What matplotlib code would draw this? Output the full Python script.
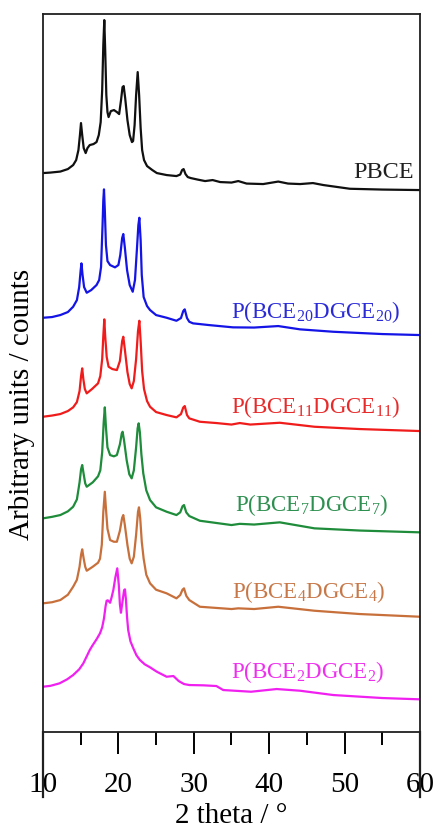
import matplotlib
matplotlib.use("Agg")
import matplotlib.pyplot as plt
import numpy as np

plt.rcParams['font.family'] = ['Liberation Serif', 'DejaVu Serif']
plt.rcParams['mathtext.fontset'] = 'custom'
plt.rcParams['mathtext.rm'] = 'Liberation Serif'
plt.rcParams['mathtext.it'] = 'Liberation Serif'
plt.rcParams['mathtext.bf'] = 'Liberation Serif'

# ---- XRD patterns: 2-theta (deg) and intensity above each trace's baseline ----
pbce_2t = [10.0, 11.0, 12.3, 13.3, 14.0, 14.4, 14.7, 14.9, 15.04, 15.2, 15.4, 15.66,
           15.9, 16.2, 16.7, 17.1, 17.4, 17.65, 17.85, 18.0, 18.13, 18.25, 18.4, 18.55,
           18.7, 19.0, 19.42, 19.8, 20.1, 20.35, 20.55, 20.7, 20.9, 21.2, 21.5, 21.8,
           21.95, 22.15, 22.35, 22.56, 22.75, 22.95, 23.15, 23.4, 23.8, 24.5, 25.1,
           26.4, 27.7, 28.2, 28.45, 28.65, 28.9, 29.2, 29.6, 30.5, 31.5, 32.5, 33.5,
           35.0, 35.9, 37.0, 39.2, 41.2, 42.5, 44.1, 45.8, 47.2, 50.7, 55.0, 60.0]
pbce_int = [17, 17.5, 18.5, 21, 25, 30, 40, 55, 67, 55, 42, 37,
            42, 45, 46, 48, 55, 68, 100, 145, 170, 140, 95, 78,
            73, 79, 80, 78, 76, 90, 103, 104, 92, 70, 55, 48,
            49, 65, 95, 118, 95, 62, 40, 30, 24, 20, 17,
            15, 14, 15.5, 20, 21, 16, 13, 12, 10.5, 9, 10, 8,
            7.5, 9, 6.5, 6, 8.5, 6.5, 6, 7, 5, 1.3, 0.5, 0]

bce20_2t = [10.0, 11.2, 12.3, 13.3, 14.0, 14.5, 14.8, 15.0, 15.1, 15.25, 15.45, 15.8,
            16.4, 17.1, 17.45, 17.7, 17.9, 18.0, 18.09, 18.2, 18.35, 18.55, 18.9,
            19.55, 20.0, 20.25, 20.5, 20.65, 20.85, 21.15, 21.5, 21.9, 22.2, 22.45,
            22.65, 22.78, 22.95, 23.1, 23.35, 23.8, 24.2, 25.0, 26.4, 27.7, 28.3,
            28.6, 28.8, 29.1, 29.4, 29.9, 32.0, 35.2, 38.0, 41.2, 44.1, 48.5, 55.0, 60.0]
bce20_int = [17.3, 18, 20, 23, 28.3, 35, 48, 65, 71.7, 60, 48, 42.3,
             45, 50, 55, 68, 110, 135, 145.7, 125, 90, 74, 70,
             67.7, 70, 80, 97, 101, 88, 65, 50, 43.3, 55, 85,
             110, 117.3, 95, 60, 38, 29, 25, 20, 17.3, 14.3, 17,
             24, 25.7, 17, 13.3, 11.7, 10, 7.7, 7.5, 9, 5.7, 3.3, 1, 0]

bce11_2t = [10.0, 11.2, 12.3, 13.3, 14.0, 14.5, 14.85, 15.05, 15.2, 15.35, 15.55, 15.8,
            16.5, 17.3, 17.6, 17.85, 18.0, 18.13, 18.25, 18.45, 18.7, 19.2, 19.8,
            20.2, 20.5, 20.65, 20.85, 21.2, 21.5, 21.76, 22.05, 22.35, 22.6, 22.78,
            22.95, 23.15, 23.4, 23.8, 24.2, 25.0, 26.4, 27.7, 28.3, 28.6, 28.8, 29.1,
            29.4, 30.8, 33.0, 35.0, 36.1, 37.5, 41.4, 46.0, 52.0, 60.0]
bce11_int = [14.3, 15.5, 17, 20, 23.7, 29, 40, 55, 62.7, 52, 42, 37.7,
             42, 47.7, 55, 72, 95, 111.7, 95, 74, 64.3, 62, 61,
             70, 90, 94.3, 82, 59, 47, 42.7, 50, 72, 100, 110.3,
             90, 60, 42, 30, 24.3, 19, 16, 13.7, 17, 23.5, 25, 16,
             12.7, 9.3, 8, 6.5, 8, 6.5, 8.3, 4.3, 2, 0]

bce7_2t = [10.0, 11.2, 12.3, 13.3, 14.0, 14.5, 14.85, 15.05, 15.2, 15.4, 15.6, 15.8,
           16.6, 17.3, 17.6, 17.85, 18.05, 18.2, 18.35, 18.55, 18.9, 19.4, 19.8,
           20.2, 20.45, 20.56, 20.75, 21.1, 21.45, 21.76, 22.05, 22.35, 22.55, 22.69,
           22.85, 23.05, 23.3, 23.7, 24.2, 25.0, 26.4, 27.7, 28.2, 28.5, 28.7, 29.0,
           29.4, 30.8, 35.0, 36.1, 38.0, 41.4, 46.0, 52.0, 60.0]
bce7_int = [14, 15.5, 17.3, 21, 25.6, 33, 50, 63, 67.3, 58, 49, 45.6,
            50, 56, 62, 80, 110, 125, 105, 85, 77.3, 76, 77.3,
            88, 99, 100.6, 92, 72, 58, 54, 62, 85, 104, 109,
            100, 78, 59, 42, 32.3, 25, 20.6, 17.3, 20, 26, 27.3, 20,
            16.3, 11.6, 7.3, 8.5, 7.8, 10, 4, 1.8, 0]

bce4_2t = [10.0, 11.2, 12.3, 13.3, 14.0, 14.5, 14.85, 15.05, 15.2, 15.4, 15.6, 15.8,
           16.6, 17.3, 17.56, 17.8, 18.0, 18.2, 18.35, 18.55, 18.9, 19.4, 19.8,
           20.2, 20.5, 20.65, 20.85, 21.2, 21.5, 21.76, 22.05, 22.35, 22.6, 22.73,
           22.9, 23.1, 23.35, 23.7, 24.2, 25.0, 26.4, 27.7, 28.2, 28.5, 28.7, 29.0,
           29.4, 30.8, 35.0, 35.9, 38.0, 41.2, 46.0, 52.0, 60.0]
bce4_int = [13.4, 14.5, 16.7, 22, 30, 37, 50, 62, 67.4, 58, 50, 46,
            50, 54, 58, 72, 105, 125, 108, 88, 76.7, 75, 75,
            86, 99, 101.7, 92, 71.7, 58, 53.4, 60, 82, 105, 109.4,
            98, 75, 58, 42, 33.4, 27, 23.4, 18.4, 21.7, 27, 28.4, 21,
            16.7, 10, 7.7, 8.4, 7.7, 10, 6, 2.7, 0]

bce2_2t = [10.0, 11.0, 12.2, 13.2, 14.0, 14.8, 15.35, 15.8, 16.2, 16.6, 17.1, 17.56,
           17.85, 18.09, 18.3, 18.44, 18.6, 18.9, 19.1, 19.33, 19.6, 19.85, 20.05,
           20.2, 20.34, 20.55, 20.75, 20.87, 21.0, 21.15, 21.3, 21.6, 21.98, 22.4,
           22.86, 23.5, 24.2, 25.1, 26.4, 27.3, 28.0, 28.7, 29.4, 31.3, 33.0, 33.9,
           37.6, 41.0, 44.1, 48.5, 55.0, 60.0]
bce2_int = [12.6, 13.5, 16, 20, 24.3, 30, 36, 43, 49.3, 54.3, 60, 66,
            72, 81, 93, 98.6, 99, 96.6, 102, 109.3, 122, 131, 115,
            95, 86.6, 98, 109, 110, 100, 82, 69.3, 58, 51, 44,
            39.3, 35, 32, 27.6, 22.6, 23.3, 18.3, 15.3, 14.3, 14, 13.3, 9.3,
            7.6, 10.3, 8.6, 4.3, 1.3, 0]

samples = ["PBCE",
           r"P(BCE$_{20}$DGCE$_{20}$)",
           r"P(BCE$_{11}$DGCE$_{11}$)",
           r"P(BCE$_{7}$DGCE$_{7}$)",
           r"P(BCE$_{4}$DGCE$_{4}$)",
           r"P(BCE$_{2}$DGCE$_{2}$)"]
x_series = [pbce_2t, bce20_2t, bce11_2t, bce7_2t, bce4_2t, bce2_2t]
y_series = [pbce_int, bce20_int, bce11_int, bce7_int, bce4_int, bce2_int]

# vertical stacking offsets of each trace
offsets = [541.7, 396.7, 300.7, 199.4, 115.0, 32.4]
line_colors = ["#101010", "#1414e6", "#f01c1c", "#1e8c3a", "#c8703c", "#f020f0"]
text_colors = ["#202020", "#2a2ad8", "#e82a2a", "#2e9050", "#c87848", "#ee30ee"]
label_pos = [(51.1, 553.4), (34.9, 414.0), (34.9, 318.9),
             (35.4, 221.2), (35.1, 134.2), (34.9, 53.6)]
label_size = [17.5, 16.5, 16.5, 16.5, 16.5, 16.5]

fig = plt.figure(figsize=(4.36, 8.23), dpi=100)
ax = fig.add_axes([0.0986, 0.1109, 0.8647, 0.8720])

for xs, ys, off, c in zip(x_series, y_series, offsets, line_colors):
    ax.plot(xs, np.asarray(ys) + off, color=c, lw=1.6,
            solid_joinstyle='round', solid_capstyle='round')

for name, (lx, ly), c, fs in zip(samples, label_pos, text_colors, label_size):
    ax.text(lx, ly, name, color=c, fontsize=fs, ha='left', va='baseline')

ax.set_xlim(10, 60)
ax.set_ylim(0, 717.7)
ax.set_xticks([10, 20, 30, 40, 50, 60])
ax.set_xticks([15, 25, 35, 45, 55], minor=True)
ax.set_yticks([])
ax.tick_params(axis='x', which='major', direction='out', length=16, width=1.4,
               labelsize=21, pad=13)
ax.tick_params(axis='x', which='minor', direction='out', length=9, width=1.4)
for s in ax.spines.values():
    s.set_linewidth(1.3)
    s.set_color('#202020')

# side frame lines continue below the x axis
for xa in (0, 1):
    ax.plot([xa, xa], [0, -0.091], transform=ax.transAxes, clip_on=False,
            color='#202020', lw=1.6)

ax.set_xlabel("2 theta / °", fontsize=21, labelpad=3.5)
ax.set_ylabel("Arbitrary units / counts", fontsize=21)
ax.yaxis.set_label_coords(-0.022, 0.4566)

fig.savefig("out.png", dpi=100)
